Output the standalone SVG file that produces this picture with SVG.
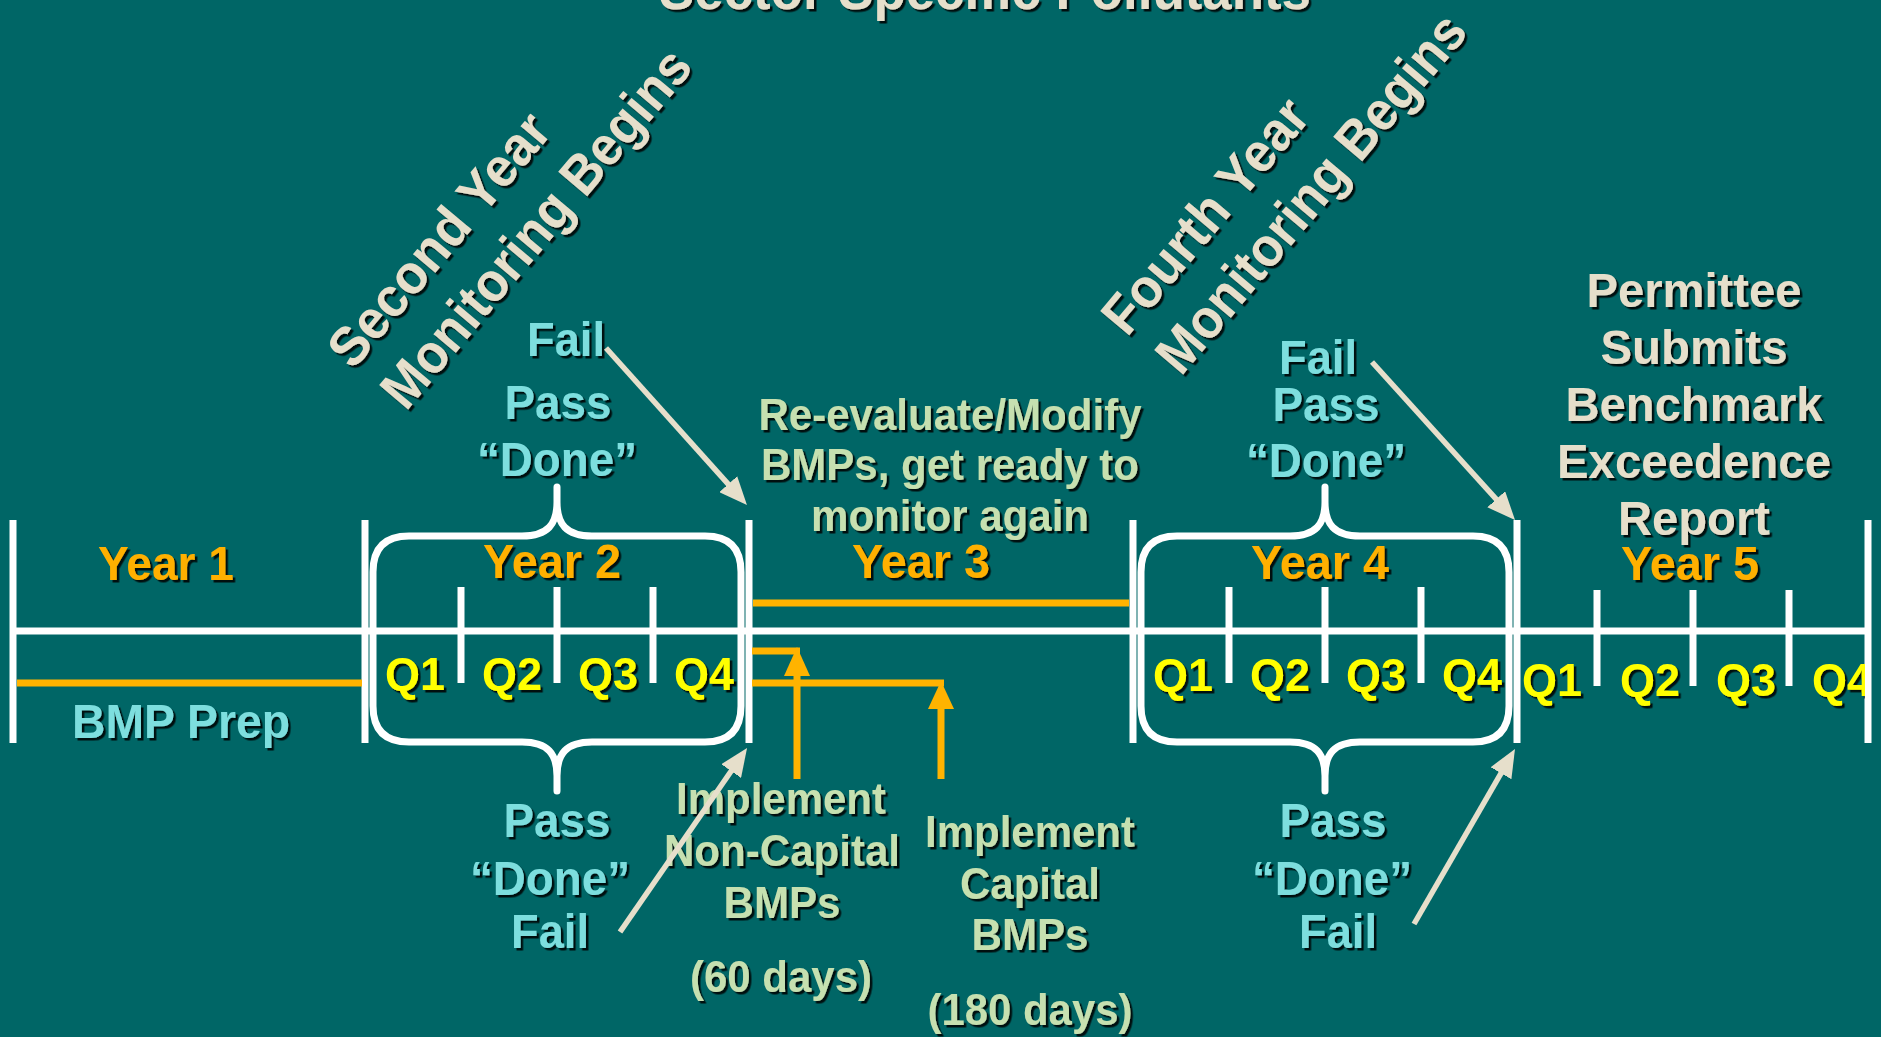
<svg xmlns="http://www.w3.org/2000/svg" width="1881" height="1037" viewBox="0 0 1881 1037">
<defs>
<filter id="sh" x="-10%" y="-10%" width="130%" height="140%"><feDropShadow dx="2.5" dy="2.5" stdDeviation="0.4" flood-color="#000" flood-opacity="0.85"/></filter>
<marker id="ah" markerUnits="userSpaceOnUse" markerWidth="28" markerHeight="24" viewBox="0 0 28 24" refX="8" refY="12" orient="auto"><path d="M0,0 L28,12 L0,24 Z" fill="#E6DFCB"/></marker>
<clipPath id="cr"><rect x="0" y="0" width="1865" height="1037"/></clipPath>
</defs>
<style>
text{font-family:"Liberation Sans",Arial,sans-serif;font-weight:bold;text-anchor:middle}
.yr{fill:#FFB000;font-size:49px}
.q{fill:#FFFF00;font-size:47px}
.cy{fill:#7DDEDE;font-size:48px}
.gr{fill:#C6E0B0;font-size:44px}
.bg{fill:#E6DFCB;font-size:49px}
.rot{fill:#E6DFCB;font-size:55px;text-anchor:start}
.wl{stroke:#FFFFFF;stroke-width:7;fill:none}
.ol{stroke:#FFB300;stroke-width:7;fill:none}
.arr{stroke:#E6DFCB;stroke-width:5.5;fill:none;marker-end:url(#ah)}
.brace{stroke:#FFFFFF;stroke-width:7;fill:none;stroke-linejoin:round;stroke-linecap:round}
</style>
<rect width="1881" height="1037" fill="#006666"/>

<g id="title" filter="url(#sh)">
<text class="bg" x="985" y="9" style="font-size:55px" textLength="652" lengthAdjust="spacingAndGlyphs">Sector Specific Pollutants</text>
</g>

<g id="timeline">
<line class="wl" x1="13" y1="631" x2="1868" y2="631"/>
<line class="wl" x1="13" y1="520" x2="13" y2="743"/>
<line class="wl" x1="365" y1="520" x2="365" y2="743"/>
<line class="wl" x1="749" y1="520" x2="749" y2="743"/>
<line class="wl" x1="1133" y1="520" x2="1133" y2="743"/>
<line class="wl" x1="1517" y1="520" x2="1517" y2="743"/>
<line class="wl" x1="1868" y1="520" x2="1868" y2="743"/>
</g>

<g id="year1">
<g filter="url(#sh)">
<text class="yr" x="166" y="580" textLength="136" lengthAdjust="spacingAndGlyphs">Year 1</text>
<text class="cy" x="181" y="738" textLength="218" lengthAdjust="spacingAndGlyphs">BMP Prep</text>
</g>
<line class="ol" x1="17" y1="683" x2="362" y2="683"/>
</g>

<g id="year2">
<path class="brace" d="M373,572 Q373,536 409,536 L522,536 C548,536 557,524 557,502 L557,487 L557,502 C557,524 566,536 592,536 L705,536 Q741,536 741,572 L741,706 Q741,742 705,742 L592,742 C566,742 557,754 557,776 L557,791 L557,776 C557,754 548,742 522,742 L409,742 Q373,742 373,706 Z"/>
<line class="wl" x1="461" y1="587" x2="461" y2="683"/>
<line class="wl" x1="557" y1="587" x2="557" y2="683"/>
<line class="wl" x1="653" y1="587" x2="653" y2="683"/>
<g filter="url(#sh)">
<text class="yr" x="552" y="578" textLength="138" lengthAdjust="spacingAndGlyphs">Year 2</text>
<text class="q" x="415" y="690" textLength="60" lengthAdjust="spacingAndGlyphs">Q1</text>
<text class="q" x="512" y="690" textLength="60" lengthAdjust="spacingAndGlyphs">Q2</text>
<text class="q" x="608" y="690" textLength="60" lengthAdjust="spacingAndGlyphs">Q3</text>
<text class="q" x="704" y="690" textLength="60" lengthAdjust="spacingAndGlyphs">Q4</text>
<text class="cy" x="566" y="356" textLength="78" lengthAdjust="spacingAndGlyphs">Fail</text>
<text class="cy" x="558" y="419" textLength="107" lengthAdjust="spacingAndGlyphs">Pass</text>
<text class="cy" x="557" y="476" textLength="160" lengthAdjust="spacingAndGlyphs">“Done”</text>
<text class="cy" x="557" y="837" textLength="107" lengthAdjust="spacingAndGlyphs">Pass</text>
<text class="cy" x="550" y="895" textLength="160" lengthAdjust="spacingAndGlyphs">“Done”</text>
<text class="cy" x="550" y="948" textLength="78" lengthAdjust="spacingAndGlyphs">Fail</text>
</g>
</g>

<g id="year3">
<line class="ol" x1="753" y1="603" x2="1129" y2="603"/>
<g filter="url(#sh)">
<text class="yr" x="921" y="578" textLength="138" lengthAdjust="spacingAndGlyphs">Year 3</text>
<text class="gr" x="950" y="430" textLength="383" lengthAdjust="spacingAndGlyphs">Re-evaluate/Modify</text>
<text class="gr" x="950" y="480" textLength="378" lengthAdjust="spacingAndGlyphs">BMPs, get ready to</text>
<text class="gr" x="950" y="531" textLength="278" lengthAdjust="spacingAndGlyphs">monitor again</text>
</g>
</g>

<g id="noncapital">
<g filter="url(#sh)">
<text class="gr" x="781" y="814" textLength="210" lengthAdjust="spacingAndGlyphs">Implement</text>
<text class="gr" x="782" y="866" textLength="236" lengthAdjust="spacingAndGlyphs">Non-Capital</text>
<text class="gr" x="782" y="918" textLength="117" lengthAdjust="spacingAndGlyphs">BMPs</text>
<text class="gr" x="781" y="992" textLength="182" lengthAdjust="spacingAndGlyphs">(60 days)</text>
</g>
</g>

<g id="capital">
<g filter="url(#sh)">
<text class="gr" x="1030" y="847" textLength="210" lengthAdjust="spacingAndGlyphs">Implement</text>
<text class="gr" x="1030" y="899" textLength="140" lengthAdjust="spacingAndGlyphs">Capital</text>
<text class="gr" x="1030" y="950" textLength="117" lengthAdjust="spacingAndGlyphs">BMPs</text>
<text class="gr" x="1030" y="1025" textLength="205" lengthAdjust="spacingAndGlyphs">(180 days)</text>
</g>
</g>

<g id="year4">
<path class="brace" transform="translate(768,0)" d="M373,572 Q373,536 409,536 L522,536 C548,536 557,524 557,502 L557,487 L557,502 C557,524 566,536 592,536 L705,536 Q741,536 741,572 L741,706 Q741,742 705,742 L592,742 C566,742 557,754 557,776 L557,791 L557,776 C557,754 548,742 522,742 L409,742 Q373,742 373,706 Z"/>
<line class="wl" x1="1229" y1="587" x2="1229" y2="683"/>
<line class="wl" x1="1325" y1="587" x2="1325" y2="683"/>
<line class="wl" x1="1421" y1="587" x2="1421" y2="683"/>
<g filter="url(#sh)">
<text class="yr" x="1320" y="579" textLength="138" lengthAdjust="spacingAndGlyphs">Year 4</text>
<text class="q" x="1183" y="691" textLength="60" lengthAdjust="spacingAndGlyphs">Q1</text>
<text class="q" x="1280" y="691" textLength="60" lengthAdjust="spacingAndGlyphs">Q2</text>
<text class="q" x="1376" y="691" textLength="60" lengthAdjust="spacingAndGlyphs">Q3</text>
<text class="q" x="1472" y="691" textLength="60" lengthAdjust="spacingAndGlyphs">Q4</text>
<text class="cy" x="1318" y="374" textLength="78" lengthAdjust="spacingAndGlyphs">Fail</text>
<text class="cy" x="1326" y="421" textLength="107" lengthAdjust="spacingAndGlyphs">Pass</text>
<text class="cy" x="1326" y="477" textLength="160" lengthAdjust="spacingAndGlyphs">“Done”</text>
<text class="cy" x="1333" y="837" textLength="107" lengthAdjust="spacingAndGlyphs">Pass</text>
<text class="cy" x="1332" y="895" textLength="160" lengthAdjust="spacingAndGlyphs">“Done”</text>
<text class="cy" x="1338" y="948" textLength="78" lengthAdjust="spacingAndGlyphs">Fail</text>
</g>
</g>

<g id="year5">
<line class="wl" x1="1597" y1="590" x2="1597" y2="686"/>
<line class="wl" x1="1693" y1="590" x2="1693" y2="686"/>
<line class="wl" x1="1789" y1="590" x2="1789" y2="686"/>
<g filter="url(#sh)">
<text class="yr" x="1690" y="580" textLength="138" lengthAdjust="spacingAndGlyphs">Year 5</text>
<text class="q" x="1552" y="696" textLength="60" lengthAdjust="spacingAndGlyphs">Q1</text>
<text class="q" x="1650" y="696" textLength="60" lengthAdjust="spacingAndGlyphs">Q2</text>
<text class="q" x="1746" y="696" textLength="60" lengthAdjust="spacingAndGlyphs">Q3</text>
</g>
<g clip-path="url(#cr)"><g filter="url(#sh)"><text class="q" x="1842" y="696" textLength="60" lengthAdjust="spacingAndGlyphs">Q4</text></g></g>
</g>

<g id="report" filter="url(#sh)">
<text class="bg" x="1694" y="307" textLength="215" lengthAdjust="spacingAndGlyphs">Permittee</text>
<text class="bg" x="1694" y="364" textLength="187" lengthAdjust="spacingAndGlyphs">Submits</text>
<text class="bg" x="1694" y="421" textLength="257" lengthAdjust="spacingAndGlyphs">Benchmark</text>
<text class="bg" x="1694" y="478" textLength="274" lengthAdjust="spacingAndGlyphs">Exceedence</text>
<text class="bg" x="1694" y="535" textLength="152" lengthAdjust="spacingAndGlyphs">Report</text>
</g>

<g id="second-year" filter="url(#sh)">
<text class="rot" x="353" y="371" transform="rotate(-50 353 371)" textLength="312" lengthAdjust="spacingAndGlyphs">Second Year</text>
<text class="rot" x="406" y="412" transform="rotate(-50 406 412)" textLength="449" lengthAdjust="spacingAndGlyphs">Monitoring Begins</text>
</g>

<g id="fourth-year" filter="url(#sh)">
<text class="rot" x="1127" y="338" transform="rotate(-50 1127 338)" textLength="288" lengthAdjust="spacingAndGlyphs">Fourth Year</text>
<text class="rot" x="1181" y="377" transform="rotate(-50 1181 377)" textLength="449" lengthAdjust="spacingAndGlyphs">Monitoring Begins</text>
</g>

<g id="connectors">
<line class="arr" x1="606" y1="348" x2="733.6" y2="490.1"/>
<line class="arr" x1="620" y1="932" x2="735.7" y2="764.5"/>
<line class="arr" x1="1372" y1="362" x2="1501.6" y2="505.2"/>
<line class="arr" x1="1414" y1="924" x2="1505" y2="766.3"/>
<line class="ol" x1="752" y1="651" x2="800" y2="651"/>
<line class="ol" x1="797" y1="779" x2="797" y2="672"/>
<polygon points="797,647 784,676 810,676" fill="#FFB300"/>
<line class="ol" x1="752" y1="683" x2="944" y2="683"/>
<line class="ol" x1="941" y1="779" x2="941" y2="705"/>
<polygon points="941,681 928,709 954,709" fill="#FFB300"/>
</g>
</svg>
